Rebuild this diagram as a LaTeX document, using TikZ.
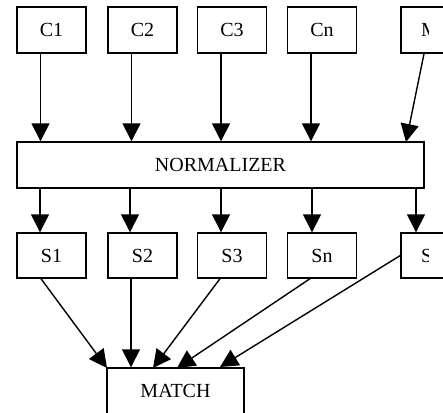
\documentclass[tikz,border=0pt]{standalone}
\usepackage{fontspec}
\setmainfont{Liberation Serif}
\usetikzlibrary{arrows.meta}
\tikzset{
  box/.style={draw, line width=1.4pt, minimum width=69pt, minimum height=46pt,
              inner sep=0pt, font=\fontsize{20}{23}\selectfont},
  arr/.style={line width=1.4pt, -{Triangle[length=18pt,width=18pt]}},
  lbl/.style={font=\fontsize{20}{23}\selectfont, inner sep=0pt}
}
\begin{document}
\begin{tikzpicture}[x=1pt,y=-1pt]
\useasboundingbox (0,0) rectangle (443,412);
\clip (0,0) rectangle (443,412);

% source row
\node[box] (c1) at (51.5,30) {C1};
\node[box] (c2) at (142.5,30) {C2};
\node[box] (c3) at (232,30) {C3};
\node[box] (cn) at (322,30) {Cn};
\node[box] (cm) at (435.5,30) {};

% normalizer
\node[box, minimum width=407pt] (norm) at (220.5,165) {NORMALIZER};

% normalized row
\node[box, minimum height=45pt] (s1) at (51.5,255.5) {S1};
\node[box, minimum height=45pt] (s2) at (142.5,255.5) {S2};
\node[box, minimum height=45pt] (s3) at (232,255.5) {S3};
\node[box, minimum height=45pt] (sn) at (322,255.5) {Sn};
\node[box, minimum height=45pt] (sm) at (435.5,255.5) {};

% matcher
\node[box, minimum width=137pt] (match) at (175.5,391) {MATCH};

% labels of the last column, cut by their text area
\begin{scope}
  \clip (401,0) rectangle (428,412);
  \node[lbl, anchor=west] (mlbl) at (421,30) {M};
  \node[lbl, anchor=west] (slbl) at (421,256) {S};
\end{scope}

% sources into the normalizer
\foreach \n in {c1,c2,c3,cn}
  \draw[arr] ([xshift=-11pt]\n.south) -- ([xshift=-11pt]\n.south |- norm.north);
\coordinate (nm) at (406,142);
\draw[arr] ([xshift=-11.5pt]cm.south) -- (nm);

% normalizer into the normalized row
\draw[arr] (norm.south -| 40,0) -- ([xshift=-11.5pt]s1.north);
\draw[arr] (norm.south -| 130,0) -- ([xshift=-12.5pt]s2.north);
\draw[arr] (norm.south -| 221,0) -- ([xshift=-11pt]s3.north);
\draw[arr] (norm.south -| 312,0) -- ([xshift=-10pt]sn.north);
\draw[arr] (norm.south -| 416,0) -- ([xshift=-19.5pt]sm.north);

% normalized row into the matcher
\coordinate (m1) at (107,368);
\coordinate (m3) at (153,368);
\coordinate (m4) at (177,368);
\coordinate (m5) at (220,367);
\draw[arr] ([xshift=-10.5pt]s1.south) -- (m1);
\draw[arr] ([xshift=-11.5pt]s2.south) -- ([xshift=-11.5pt]s2.south |- match.north);
\draw[arr] ([xshift=-12pt]s3.south) -- (m3);
\draw[arr] ([xshift=-12pt]sn.south) -- (m4);
\draw[arr] (sm.west) -- (m5);
\end{tikzpicture}
\end{document}
